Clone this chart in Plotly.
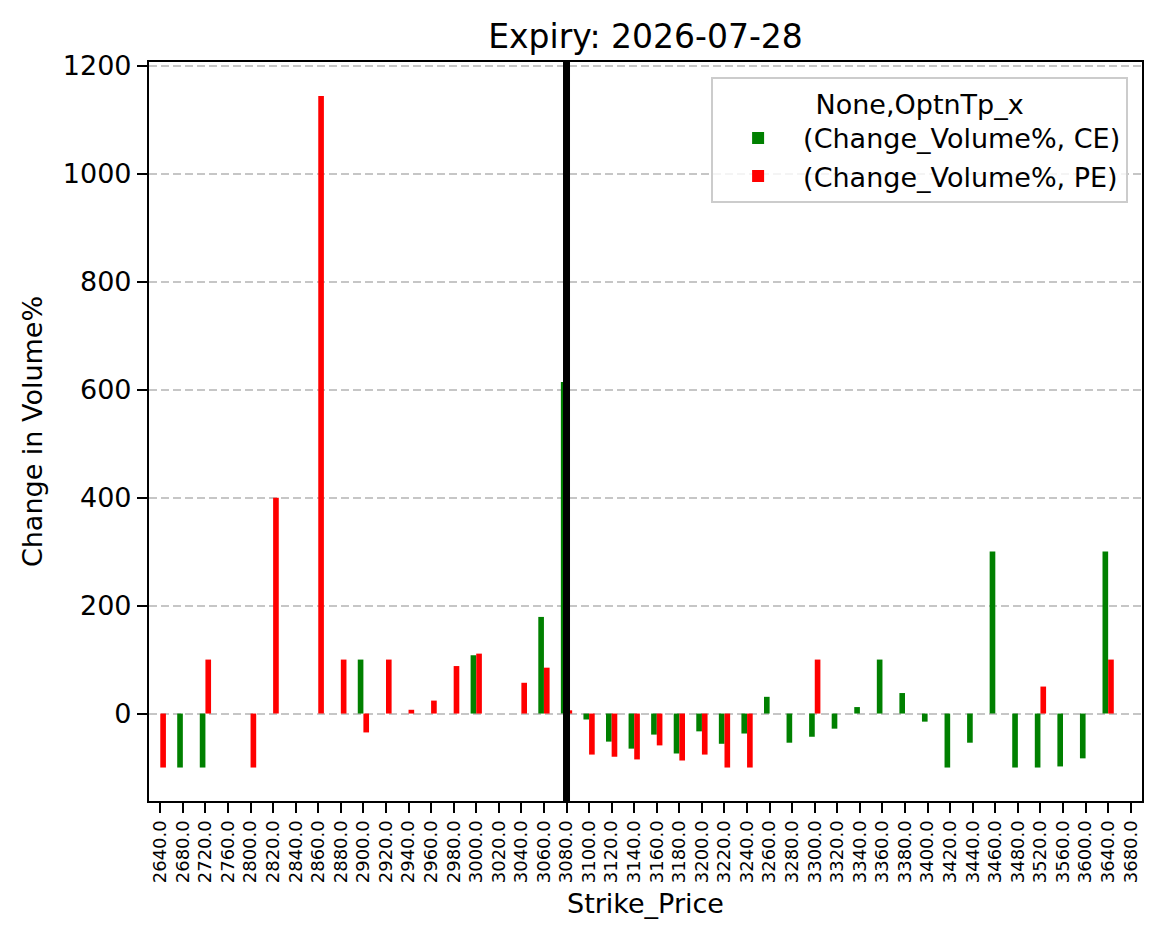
import plotly.graph_objects as go

strikes = [2640, 2680, 2720, 2760, 2800, 2820, 2840, 2860, 2880, 2900,
           2920, 2940, 2960, 2980, 3000, 3020, 3040, 3060, 3080, 3100,
           3120, 3140, 3160, 3180, 3200, 3220, 3240, 3260, 3280, 3300,
           3320, 3340, 3360, 3380, 3400, 3420, 3440, 3460, 3480, 3520,
           3560, 3600, 3640, 3680]

ce_change = [None, -100, -100, None, None, None, None, None, None, 100,
             None, None, None, None, 108, None, None, 179, 614, -11,
             -52, -65, -39, -74, -33, -56, -37, 31, -54, -43,
             -28, 12, 100, 38, -15, -100, -54, 300, -100, -100,
             -98, -83, 300, None]

pe_change = [-100, None, 100, None, -100, 400, None, 1144, 100, -35,
             100, 7, 24, 88, 111, None, 57, 85, 6, -76,
             -80, -85, -59, -87, -76, -100, -100, None, None, 100,
             None, None, None, None, None, None, None, None, None, 50,
             None, None, 100, None]

atm_strike = 3080
labels = [f"{s:.1f}" for s in strikes]

FONT = "DejaVu Sans"

fig = go.Figure()
fig.add_trace(go.Bar(x=labels, y=ce_change, name="(Change_Volume%, CE)",
                     marker=dict(color="#008000", line=dict(width=0))))
fig.add_trace(go.Bar(x=labels, y=pe_change, name="(Change_Volume%, PE)",
                     marker=dict(color="#ff0000", line=dict(width=0))))

fig.add_shape(type="line", xref="x", yref="paper",
              x0=strikes.index(atm_strike), x1=strikes.index(atm_strike),
              y0=0, y1=1, line=dict(color="black", width=7), layer="above")

fig.update_layout(
    width=1161, height=939,
    paper_bgcolor="white", plot_bgcolor="white",
    margin=dict(l=149, r=19, t=62, b=138),
    barmode="group", bargap=0.5, bargroupgap=0,
    font=dict(family=FONT, color="black", size=27),
    title=dict(text="Expiry: 2026-07-28", font=dict(family=FONT, size=33, color="black"),
               x=(149 + 1142) / 2 / 1161, xref="container", xanchor="center",
               y=1 - 36 / 939, yref="container", yanchor="middle"),
    legend=dict(
        title=dict(text="None,OptnTp_x", side="top center", font=dict(size=27)),
        x=0.986, y=0.98, xanchor="right", yanchor="top",
        bgcolor="rgba(255,255,255,0.8)", bordercolor="#cccccc", borderwidth=2,
        font=dict(size=27), itemwidth=80,
    ),
    showlegend=True,
)

fig.update_xaxes(
    type="category", tickangle=-90, tickfont=dict(size=18),
    tickmode="array", tickvals=labels, ticktext=labels,
    range=[-0.5, len(strikes) - 0.5],
    showline=True, linecolor="black", linewidth=2.2, mirror=True,
    ticks="outside", ticklen=10, tickwidth=2.2, tickcolor="black",
    showgrid=False, automargin=False,
    title=dict(text="Strike_Price", font=dict(size=27), standoff=12),
)
fig.update_yaxes(
    range=[-162, 1207], dtick=200, tick0=0, tickfont=dict(size=27),
    showline=True, linecolor="black", linewidth=2.2, mirror=True,
    ticks="outside", ticklen=10, tickwidth=2.2, tickcolor="black",
    showgrid=True, gridcolor="#c6c6c6", gridwidth=2, griddash="8px,4px",
    zeroline=False, automargin=False,
    title=dict(text="Change in Volume%", font=dict(size=27), standoff=12),
)

fig.write_html("out.html")
